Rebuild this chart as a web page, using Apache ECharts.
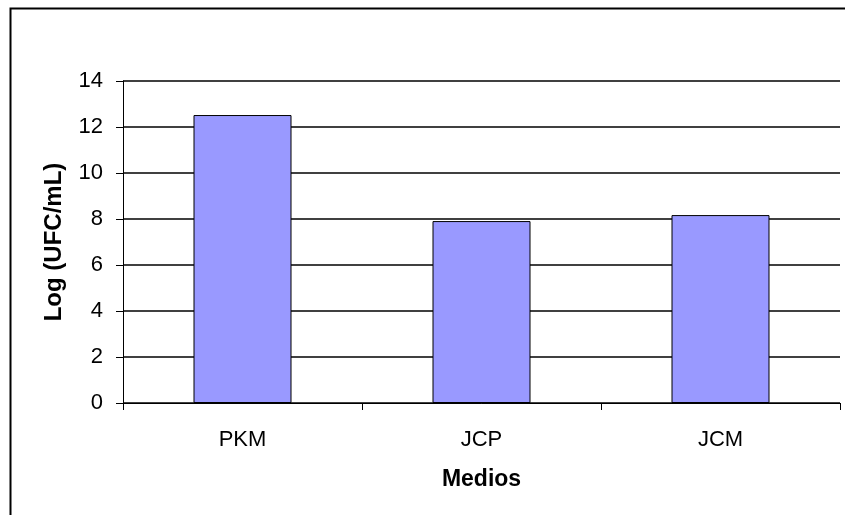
<!DOCTYPE html>
<html>
<head>
<meta charset="utf-8">
<script src="https://cdn.jsdelivr.net/npm/echarts@6/dist/echarts.min.js"></script>
<style>
  html, body { margin: 0; padding: 0; background: #fff; }
  #chart { width: 845px; height: 515px; }
</style>
</head>
<body>
<div id="chart"></div>
<script>
// 数据
var categories = ['PKM', 'JCP', 'JCM'];
var values = [12.52, 7.91, 8.17];

var myChart = echarts.init(document.getElementById('chart'));
var font = '"Liberation Sans", Arial, sans-serif';

var option = {
    animation: false,
    backgroundColor: '#fff',
    graphic: [
        // 外框
        { type: 'polyline', shape: { points: [[10.5, 515], [10.5, 8.5], [845, 8.5]] },
          style: { stroke: '#000', lineWidth: 2, fill: null } }
    ],
    grid: { left: 123, right: 5, top: 81, bottom: 112 },
    xAxis: {
        type: 'category',
        data: categories,
        name: 'Medios',
        nameLocation: 'middle',
        nameGap: 65,
        nameTextStyle: { fontFamily: font, fontSize: 23, fontWeight: 'bold', color: '#000' },
        axisLine: { lineStyle: { color: '#000', width: 1 } },
        axisTick: { show: true, length: 7, lineStyle: { color: '#000' } },
        axisLabel: { margin: 26, fontFamily: font, fontSize: 22, color: '#000' }
    },
    yAxis: {
        type: 'value',
        min: 0, max: 14, interval: 2,
        name: 'Log (UFC/mL)',
        nameLocation: 'middle',
        nameGap: 57,
        nameTextStyle: { fontFamily: font, fontSize: 24, fontWeight: 'bold', color: '#000' },
        axisLine: { show: true, lineStyle: { color: '#000', width: 1 } },
        axisTick: { show: true, length: 7, lineStyle: { color: '#000' } },
        axisLabel: { margin: 20, fontFamily: font, fontSize: 22, color: '#000' },
        splitLine: { lineStyle: { color: '#000', width: 1.5 } }
    },
    series: [{
        type: 'bar',
        data: values,
        barWidth: 98,
        itemStyle: { color: '#9999FF', borderColor: '#000', borderWidth: 1 }
    }]
};
myChart.setOption(option);
</script>
</body>
</html>
